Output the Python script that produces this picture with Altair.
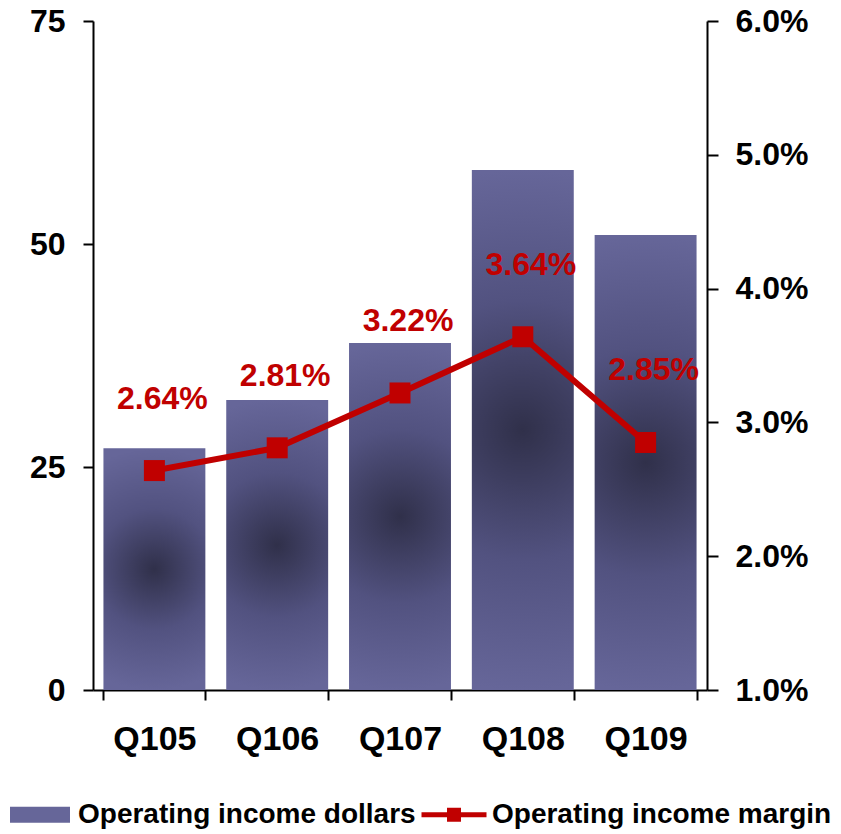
import altair as alt
import pandas as pd

quarters = ["Q105", "Q106", "Q107", "Q108", "Q109"]
income_dollars = [27.1, 32.5, 38.9, 58.3, 51.0]
income_margin = [2.64, 2.81, 3.22, 3.64, 2.85]
series_names = ["Operating income dollars", "Operating income margin"]
left_ticks = [0, 25, 50, 75]
right_ticks = [1, 2, 3, 4, 5, 6]

df = pd.DataFrame({"quarter": quarters, "dollars": income_dollars, "margin": income_margin})
legend_df = pd.DataFrame({"series": series_names})

FONT = "Liberation Sans, Arial, Helvetica, sans-serif"
RED = "#C00000"
BAR = "#666699"

swatch_path = "M-0.923,-0.246H0.923V0.246H-0.923Z"
line_path = ("M-1,-0.08H1V0.08H-1Z "
             "M-0.215,-0.215H0.215V0.215H-0.215Z")

x_enc = alt.X(
    "quarter:N", sort=quarters, title=None,
    scale=alt.Scale(paddingInner=0.17, paddingOuter=0.085),
    axis=alt.Axis(labelAngle=0, tickBand="extent", tickSize=10, labelPadding=22,
                  labelFontSize=34),
)

gradient = alt.RadialGradient(
    gradient="radial",
    stops=[
        alt.GradientStop(offset=0, color="#30304a"),
        alt.GradientStop(offset=0.5, color="#525280"),
        alt.GradientStop(offset=1, color=BAR),
    ],
    x1=0.5, y1=0.5, r1=0, x2=0.5, y2=0.5, r2=0.5,
)

bars = alt.Chart(df).mark_bar(fill=gradient).encode(
    x=x_enc,
    y=alt.Y("dollars:Q", title=None, scale=alt.Scale(domain=[0, 75]),
            axis=alt.Axis(values=left_ticks, tickSize=10, labelPadding=18)),
)

line = alt.Chart(df).mark_line(
    color=RED, strokeWidth=6,
    point=alt.OverlayMarkDef(shape="square", size=441, filled=True, fill=RED, opacity=1),
).encode(
    x=x_enc,
    y=alt.Y("margin:Q", title=None, scale=alt.Scale(domain=[1, 6]),
            axis=alt.Axis(orient="right", values=right_ticks, tickSize=11, labelPadding=17,
                          labelExpr="format(datum.value, '.1f') + '%'")),
)

labels = alt.Chart(df).transform_calculate(
    label="format(datum.margin, '.2f') + '%'"
).mark_text(
    color=RED, font=FONT, fontSize=32, fontWeight="bold", dx=8, dy=-72
).encode(
    x=x_enc,
    y=alt.Y("margin:Q", scale=alt.Scale(domain=[1, 6]), axis=None),
    text="label:N",
)

legend_layer = alt.Chart(legend_df).transform_filter("false").mark_point(
    filled=True, opacity=1
).encode(
    shape=alt.Shape("series:N", title=None,
                    scale=alt.Scale(domain=series_names, range=[swatch_path, line_path])),
    color=alt.Color("series:N", title=None,
                    scale=alt.Scale(domain=series_names, range=[BAR, RED])),
)

chart = alt.layer(bars, line, labels, legend_layer).resolve_scale(
    y="independent"
).properties(
    width=614, height=669,
    autosize=alt.AutoSizeParams(type="none"),
    padding={"left": 85, "top": 13, "right": 126, "bottom": 140},
).configure_view(
    stroke=None
).configure_axis(
    domainColor="black", domainWidth=2, tickColor="black", tickWidth=2,
    labelFont=FONT, labelFontSize=32, labelFontWeight="bold", labelColor="black",
    grid=False,
).configure_legend(
    orient="none", legendX=-85.5, legendY=761, direction="horizontal",
    columns=2, columnPadding=5, labelOffset=5.5, symbolSize=4225,
    labelFont=FONT, labelFontSize=28, labelFontWeight="bold", labelColor="black",
    labelLimit=600, padding=0, symbolStrokeWidth=0, symbolOpacity=1,
)

chart.save("out.html", embed_options={"renderer": "svg", "actions": False})
